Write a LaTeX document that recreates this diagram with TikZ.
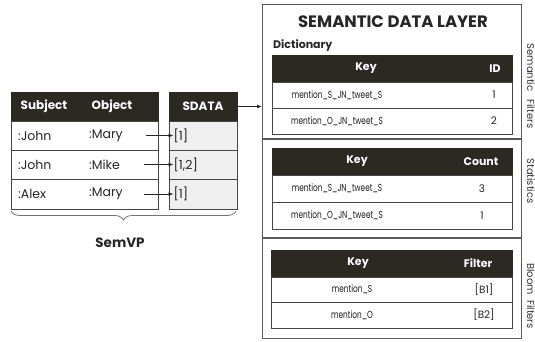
\documentclass[tikz,border=0pt]{standalone}
\usepackage{fontspec}
\setmainfont{Poppins}
\newfontfamily\keyfont[FakeStretch=0.72]{Poppins}
\usetikzlibrary{decorations.pathreplacing,arrows.meta}
\definecolor{hdrdark}{RGB}{44,40,34}
\definecolor{sdgray}{RGB}{239,239,239}
\definecolor{linegray}{RGB}{70,70,70}
\definecolor{boxgray}{RGB}{90,90,90}
\begin{document}
\begin{tikzpicture}[x=1pt,y=-1pt,
  cellbase/.style={anchor=north west, inner sep=0pt, outer sep=0pt, line width=0.9pt},
  hdrcell/.style={cellbase, fill=hdrdark, draw=hdrdark},
  rowcell/.style={cellbase, fill=white, draw=linegray},
  sdcell/.style={cellbase, fill=sdgray, draw=linegray},
  lhdr/.style={text=white, font=\fontsize{12}{13}\selectfont\bfseries, inner sep=0pt},
  rhdr/.style={text=white, font=\fontsize{11}{12}\selectfont\bfseries, inner sep=0pt},
  celltext/.style={text=black!85, font=\fontsize{12.5}{13}\selectfont, inner sep=0pt},
  keytext/.style={text=black!90, font=\keyfont\fontsize{10.2}{11}\selectfont, inner sep=0pt},
  valtext/.style={text=black!85, font=\fontsize{10.5}{11}\selectfont, inner sep=0pt},
  sidetext/.style={text=black!80, font=\fontsize{10}{11}\selectfont, rotate=-90, inner sep=0pt},
  link/.style={-{Latex[length=5pt,width=4pt]}, line width=0.8pt, draw=black!85}
]
\useasboundingbox (0,0) rectangle (535,341);

% ---------- SemVP table: Subject / Object ----------
\node[hdrcell, minimum width=147pt, minimum height=29pt] (svh) at (11,92) {};
\node[rowcell, minimum width=147pt, minimum height=29pt] (sv1) at (11,121) {};
\node[rowcell, minimum width=147pt, minimum height=29pt] (sv2) at (11,150) {};
\node[rowcell, minimum width=147pt, minimum height=30pt] (sv3) at (11,179) {};
\node[lhdr] (hsub) at (44,106.5) {Subject};
\node[lhdr] (hobj) at (112,106.5) {Object};

\node[celltext, anchor=west] (s1) at (18,135.5) {:John};
\node[celltext, anchor=west] (s2) at (18,164.5) {:John};
\node[celltext, anchor=west] (s3) at (18,194) {:Alex};
\node[celltext, anchor=west, text width=57pt, align=left] (o1) at (89,135.5) {:Mary};
\node[celltext, anchor=west, text width=55pt, align=left] (o2) at (89,164.5) {:Mike};
\node[celltext, anchor=west, text width=55pt, align=left] (o3) at (89,194) {:Mary};

% ---------- SDATA column ----------
\node[hdrcell, minimum width=68pt, minimum height=29pt] (sdh) at (169,92) {};
\node[sdcell, minimum width=68pt, minimum height=29pt] (sd1) at (169,121) {};
\node[sdcell, minimum width=68pt, minimum height=29pt] (sd2) at (169,150) {};
\node[sdcell, minimum width=68pt, minimum height=30pt] (sd3) at (169,179) {};
\node[lhdr] (hsd) at (203,106.5) {SDATA};
\node[celltext, anchor=west] (d1) at (173.5,135.5) {[1]};
\node[celltext, anchor=west] (d2) at (173.5,164.5) {[1,2]};
\node[celltext, anchor=west] (d3) at (173.5,194) {[1]};

\draw[link] (o1.east) -- (d1.west);
\draw[link] (o2.east) -- (d2.west);
\draw[link] (o3.east) -- (d3.west);

% brace and label
\coordinate (brl) at (11,211);
\coordinate (brr) at (236,211);
\draw[decorate, decoration={brace, mirror, amplitude=9pt}, line width=0.8pt, draw=black!55] (brl) -- (brr);
\node[text=black!85, font=\fontsize{13.5}{15}\selectfont\bfseries, inner sep=0pt] (semvp) at (120,243) {SemVP};

% ---------- Semantic data layer ----------
\node[anchor=north west, draw=boxgray, line width=1.1pt, minimum width=259pt, minimum height=334pt, inner sep=0pt] (layer) at (262,4) {};
\coordinate (sepa) at (262,139);
\coordinate (sepb) at (262,238);
\draw[draw=boxgray, line width=1.1pt] (sepa) -- (sepa -| layer.east);
\draw[draw=boxgray, line width=1.1pt] (sepb) -- (sepb -| layer.east);

\draw[link] (sdh.east) -- (sdh.east -| layer.west);

\node[text=black!85, font=\fontsize{16.5}{18}\selectfont\bfseries, inner sep=0pt] (title) at (393,22) {SEMANTIC DATA LAYER};
\node[text=black!85, font=\fontsize{11}{12}\selectfont\bfseries, inner sep=0pt, anchor=west] (dictlbl) at (273,46) {Dictionary};

% Dictionary table
\node[hdrcell, minimum width=240pt, minimum height=27pt] (dh) at (272,55) {};
\node[rowcell, minimum width=240pt, minimum height=26pt] (dr1) at (272,82) {};
\node[rowcell, minimum width=240pt, minimum height=26pt] (dr2) at (272,108) {};
\node[rhdr] (dkey) at (366,68.5) {Key};
\node[rhdr] (did) at (495,68.5) {ID};
\node[keytext] (dk1) at (337,95) {mention\_S\_JN\_tweet\_S};
\node[keytext] (dk2) at (337,121) {mention\_O\_JN\_tweet\_S};
\node[valtext] (dv1) at (494,95) {1};
\node[valtext] (dv2) at (494,121) {2};

% Statistics table
\node[hdrcell, minimum width=240pt, minimum height=27pt] (sh) at (272,148) {};
\node[rowcell, minimum width=240pt, minimum height=27pt] (sr1) at (272,175) {};
\node[rowcell, minimum width=240pt, minimum height=27pt] (sr2) at (272,202) {};
\node[rhdr] (skey) at (357,161.5) {Key};
\node[rhdr] (scnt) at (481,161.5) {Count};
\node[keytext] (sk1) at (337,188.5) {mention\_S\_JN\_tweet\_S};
\node[keytext] (sk2) at (337,215.5) {mention\_O\_JN\_tweet\_S};
\node[valtext] (sv1t) at (482,188.5) {3};
\node[valtext] (sv2t) at (482,215.5) {1};

% Bloom filter table
\node[hdrcell, minimum width=241pt, minimum height=27pt] (bh) at (271,250) {};
\node[rowcell, minimum width=241pt, minimum height=25pt] (br1) at (271,277) {};
\node[rowcell, minimum width=241pt, minimum height=26pt] (br2) at (271,302) {};
\node[rhdr] (bkey) at (358,263.5) {Key};
\node[rhdr] (bflt) at (478,263.5) {Filter};
\node[keytext] (bk1) at (352,289.5) {mention\_S};
\node[keytext] (bk2) at (352,315) {mention\_O};
\node[valtext] (bv1) at (484,289.5) {[B1]};
\node[valtext] (bv2) at (484,315) {[B2]};

% side labels
\node[sidetext] (lblsf) at (531,86) {Semantic\ \ \ Filters};
\node[sidetext] (lblst) at (531,181) {Statistics};
\node[sidetext] (lblbf) at (531,296) {Bloom\ \ Filters};
\end{tikzpicture}
\end{document}
